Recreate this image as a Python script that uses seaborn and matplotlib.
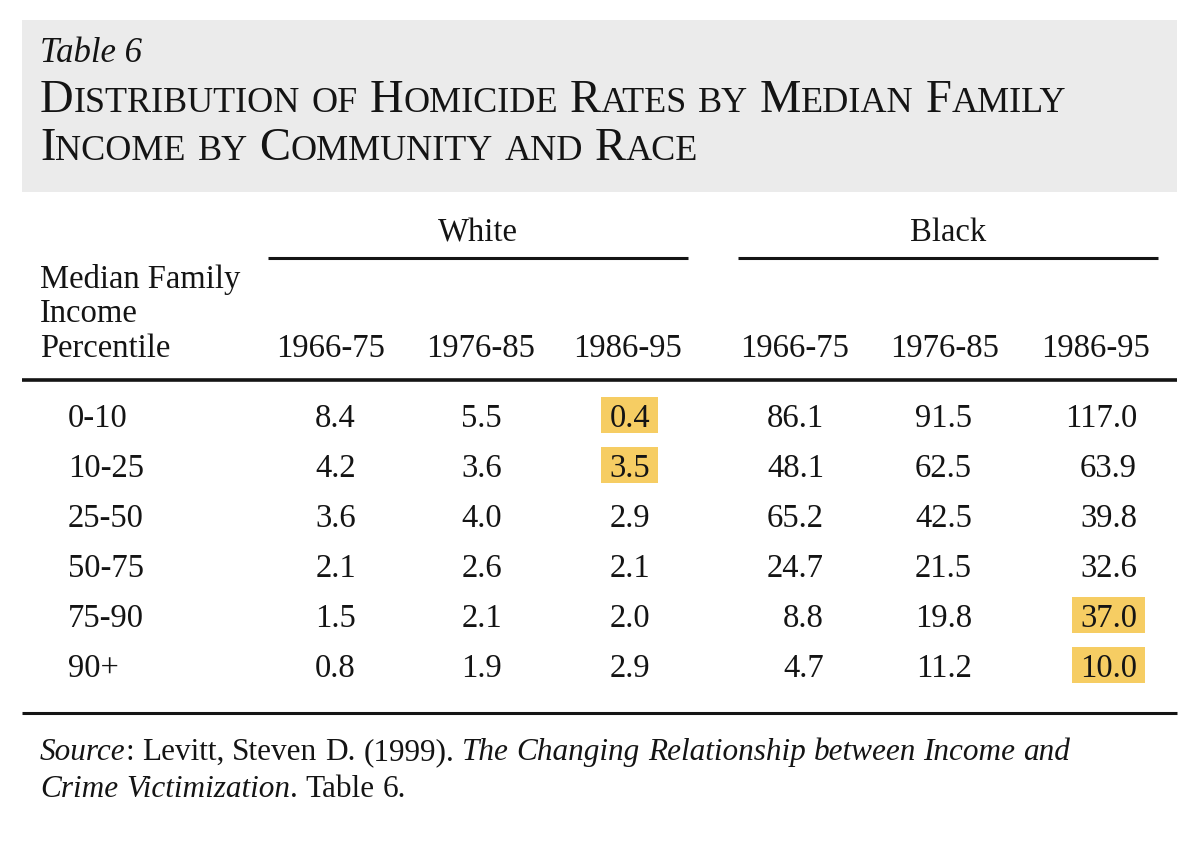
import matplotlib
matplotlib.use("Agg")
import matplotlib.pyplot as plt
import seaborn as sns
from matplotlib.patches import Rectangle

# ---------------- data ----------------
table_label = "Table 6"
title_lines = ["Distribution of Homicide Rates by Median Family",
               "Income by Community and Race"]
groups = ["White", "Black"]
periods = ["1966-75", "1976-85", "1986-95"]
row_header = ["Median Family", "Income", "Percentile"]
percentiles = ["0-10", "10-25", "25-50", "50-75", "75-90", "90+"]
white_values = [[8.4, 5.5, 0.4],
                [4.2, 3.6, 3.5],
                [3.6, 4.0, 2.9],
                [2.1, 2.6, 2.1],
                [1.5, 2.1, 2.0],
                [0.8, 1.9, 2.9]]
black_values = [[86.1, 91.5, 117.0],
                [48.1, 62.5, 63.9],
                [65.2, 42.5, 39.8],
                [24.7, 21.5, 32.6],
                [8.8, 19.8, 37.0],
                [4.7, 11.2, 10.0]]
# highlighted cells: (group, row, column)
highlights = [("White", 0, 2), ("White", 1, 2), ("Black", 4, 2), ("Black", 5, 2)]
source_parts = [[("Source", True), (": Levitt, Steven D. (1999). ", False),
                 ("The Changing Relationship between Income and", True)],
                [("Crime Victimization", True), (". Table 6.", False)]]

# ---------------- style ----------------
sns.set_theme(style="white")
plt.rcParams['font.family'] = ['Liberation Serif', 'DejaVu Serif']
INK = "#141414"
GREY = "#ebebeb"
HL = "#f6cd63"
FS = 23.5
FS_SRC = 22.5

fig = plt.figure(figsize=(12, 8.41), dpi=100)
fig.patch.set_facecolor("white")
ax = fig.add_axes([0, 0, 1, 1])
ax.set_xlim(0, 1200)
ax.set_ylim(841, 0)
ax.axis("off")
renderer = fig.canvas.get_renderer()


def width_of(t):
    return t.get_window_extent(renderer).width


def draw_pieces(x, y, pieces):
    """pieces: list of (text, size, style). Draw left to right on a baseline."""
    for s, size, style in pieces:
        if s == " ":
            x += size * 100 / 72 * 0.25
            continue
        t = ax.text(x, y, s, fontsize=size, style=style, color=INK,
                    ha="left", va="baseline")
        x += width_of(t)
    return x


# header grey box
ax.add_patch(Rectangle((22, 20), 1155, 172, facecolor=GREY, edgecolor="none", zorder=0))

ax.text(40, 62, table_label, fontsize=25, style="italic", color=INK, ha="left", va="baseline")

# small-caps title
big, small = 33.5, 26


def small_caps(line):
    pieces = []
    for w_i, word in enumerate(line.split(" ")):
        if w_i:
            pieces.append((" ", big, "normal"))
        for ch in word:
            if ch.isupper():
                pieces.append((ch, big, "normal"))
            else:
                pieces.append((ch.upper(), small, "normal"))
    merged = []
    for p in pieces:
        if merged and merged[-1][1] == p[1] and p[0] != " " and merged[-1][0] != " ":
            merged[-1] = (merged[-1][0] + p[0], p[1], p[2])
        else:
            merged.append(p)
    return merged


draw_pieces(40, 112, small_caps(title_lines[0]))
draw_pieces(40, 160, small_caps(title_lines[1]))

# column layout
group_spans = {"White": (268, 688), "Black": (738, 1158)}
header_x = {"White": [331, 481, 628], "Black": [795, 945, 1095]}
value_right = {"White": [356, 502, 650], "Black": [824, 972, 1137]}
values = {"White": white_values, "Black": black_values}
row_base = [427, 477, 527, 577, 627, 677]

for g in groups:
    x0, x1 = group_spans[g]
    ax.text((x0 + x1) / 2, 241, g, fontsize=FS, color=INK, ha="center", va="baseline")
    ax.plot([x0, x1], [258, 258], color=INK, lw=2.2, solid_capstyle="butt")
    for j, p in enumerate(periods):
        ax.text(header_x[g][j], 357, p, fontsize=FS, color=INK, ha="center", va="baseline")

for s, yb in zip(row_header, [288, 322, 357]):
    ax.text(40, yb, s, fontsize=FS, color=INK, ha="left", va="baseline")

ax.plot([22, 1177], [380, 380], color=INK, lw=2.6, solid_capstyle="butt")
ax.plot([22, 1177], [713, 713], color=INK, lw=2.2, solid_capstyle="butt")

hl_set = set(highlights)
for g in groups:
    for i, row in enumerate(values[g]):
        for j, v in enumerate(row):
            t = ax.text(value_right[g][j], row_base[i], f"{v:.1f}", fontsize=FS,
                        color=INK, ha="right", va="baseline", zorder=3)
            if (g, i, j) in hl_set:
                w = width_of(t)
                ax.add_patch(Rectangle((value_right[g][j] - w - 8, row_base[i] - 30),
                                       w + 16, 36, facecolor=HL, edgecolor="none", zorder=2))

for i, lab in enumerate(percentiles):
    ax.text(68, row_base[i], lab, fontsize=FS, color=INK, ha="left", va="baseline")

# source note
for line_parts, yb in zip(source_parts, [760, 797]):
    pieces = []
    for s, it in line_parts:
        words = s.split(" ")
        for w_i, w in enumerate(words):
            if w_i:
                pieces.append((" ", FS_SRC, "normal"))
            if w:
                pieces.append((w, FS_SRC, "italic" if it else "normal"))
    draw_pieces(40, yb, pieces)

fig.savefig("out.png", dpi=100, facecolor="white")
